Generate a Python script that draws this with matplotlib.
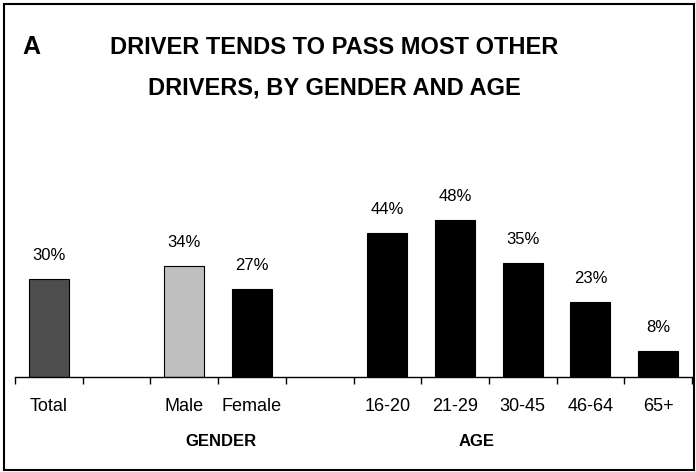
import matplotlib
matplotlib.use("Agg")
import matplotlib.pyplot as plt
from matplotlib.patches import Rectangle

# -----------------------------
# Data
# -----------------------------
categories = ["Total", "", "Male", "Female", "", "16-20", "21-29", "30-45", "46-64", "65+"]
values = [30, None, 34, 27, None, 44, 48, 35, 23, 8]
colors = ["#4d4d4d", None, "#c0c0c0", "#000000", None,
          "#000000", "#000000", "#000000", "#000000", "#000000"]
group_labels = ["GENDER", "AGE"]
group_pos = [2.54, 6.32]

plt.rcParams["font.family"] = ["Liberation Sans Narrow", "Liberation Sans", "DejaVu Sans"]

fig = plt.figure(figsize=(6.96, 4.72), dpi=100)

# frame around the whole figure
fig.patches.append(Rectangle((4 / 696, 2 / 472), 690 / 696, 466 / 472,
                             transform=fig.transFigure, fill=False,
                             edgecolor="black", linewidth=1.5))

ax = fig.add_axes([15 / 696, 95 / 472, 677 / 696, 196 / 472])

xs = list(range(len(categories)))
for x, v, c in zip(xs, values, colors):
    if v is None:
        continue
    ax.bar(x, v, width=0.59, color=c, edgecolor="black", linewidth=0.8)
    ax.annotate(f"{v}%", (x, v), xytext=(0, 17), textcoords="offset points",
                ha="center", va="center", fontsize=12)

ax.set_xlim(-0.5, len(categories) - 0.5)
ax.set_ylim(0, 60)

for side in ["top", "right", "left"]:
    ax.spines[side].set_visible(False)
ax.spines["bottom"].set_linewidth(1.0)

ax.set_yticks([])
ax.set_xticks([i - 0.5 for i in range(len(categories) + 1)])
ax.set_xticklabels([])
ax.tick_params(axis="x", which="major", direction="out", length=5, width=1.0)
ax.set_xticks(xs, minor=True)
ax.set_xticklabels(categories, minor=True, fontsize=13)
ax.tick_params(axis="x", which="minor", length=0, pad=15)

for lbl, pos in zip(group_labels, group_pos):
    ax.text(pos, -0.33, lbl, transform=ax.get_xaxis_transform(),
            ha="center", va="center", fontsize=12, fontweight="bold")

# -----------------------------
# Titles
# -----------------------------
fig.text(31 / 696, 1 - 47 / 472, "A", ha="center", va="center",
         fontsize=18, fontweight="bold")
fig.text(334 / 696, 1 - 47 / 472, "DRIVER TENDS TO PASS MOST OTHER",
         ha="center", va="center", fontsize=17, fontweight="bold")
fig.text(334 / 696, 1 - 88 / 472, "DRIVERS, BY GENDER AND AGE",
         ha="center", va="center", fontsize=17, fontweight="bold")

fig.savefig("out.png", dpi=100)
